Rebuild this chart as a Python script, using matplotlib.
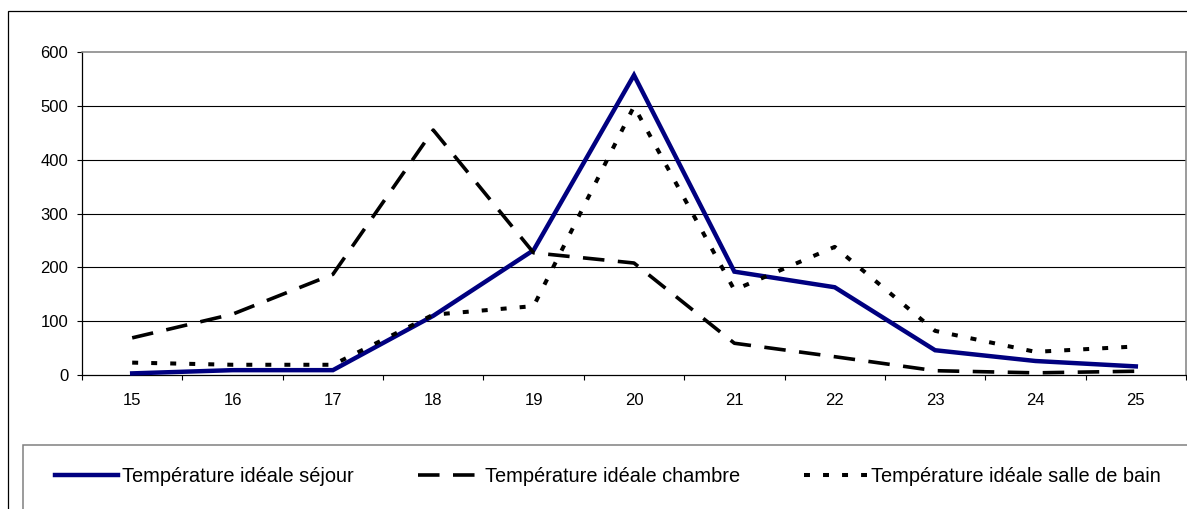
import numpy as np
import matplotlib
matplotlib.use("Agg")
import matplotlib.pyplot as plt
from matplotlib.patches import Rectangle

# valeurs
temperatures = ["15", "16", "17", "18", "19", "20", "21", "22", "23", "24", "25"]
sejour = [3, 9, 9, 110, 232, 557, 192, 163, 46, 26, 16]
chambre = [69, 113, 187, 455, 227, 208, 59, 34, 8, 4, 7]
salle_de_bain = [23, 19, 19, 112, 128, 499, 158, 238, 82, 43, 53]
noms = ["Température idéale séjour",
        "Température idéale chambre",
        "Température idéale salle de bain"]

plt.rcParams["font.family"] = ["Liberation Sans", "DejaVu Sans"]
plt.rcParams["lines.scale_dashes"] = False

W, H = 1187, 509
fig = plt.figure(figsize=(W / 100, H / 100), dpi=100)

# cadre du graphique et cadre de la legende (coupes par le bord de l'image)
fig.add_artist(Rectangle((8 / W, -0.2), 1.5, 1.2 - 10.7 / H, transform=fig.transFigure,
                         fill=False, ec="black", lw=0.9))
fig.add_artist(Rectangle((22.7 / W, -0.2), 1.5, 1.2 - 445 / H, transform=fig.transFigure,
                         fill=False, ec="#808080", lw=1.1))

ax = fig.add_axes([82 / W, 1 - 375 / H, (1186 - 82) / W, (375 - 52) / H])
x = np.arange(len(temperatures))
l1, = ax.plot(x, sejour, color="#000080", lw=3.2, solid_joinstyle="miter",
              clip_on=False, zorder=3)
l2, = ax.plot(x, chambre, color="black", lw=2.6, dashes=(15.5, 9.7),
              clip_on=False, zorder=3)
l3, = ax.plot(x, salle_de_bain, color="black", lw=2.9, dashes=(4.3, 9.4),
              clip_on=False, zorder=3)

ax.set_xlim(-0.5, len(temperatures) - 0.5)
ax.set_ylim(0, 600)
ax.set_yticks(range(0, 601, 100))
ax.set_xticks(x)
ax.set_xticklabels(temperatures)
ax.set_xticks(np.arange(-0.5, len(temperatures), 1), minor=True)
ax.tick_params(axis="x", which="major", length=0, pad=12.7, labelsize=12)
ax.tick_params(axis="x", which="minor", length=3.6, width=0.8, direction="out")
ax.tick_params(axis="y", length=3.6, width=0.8, pad=6.3, labelsize=12)

ax.yaxis.grid(True, color="black", lw=0.8)
grilles = ax.get_ygridlines()
grilles[0].set_visible(False)
grilles[-1].set_visible(False)
ax.set_axisbelow(True)

for cote in ["left", "bottom"]:
    ax.spines[cote].set_color("black")
    ax.spines[cote].set_linewidth(0.9)
for cote in ["top", "right"]:
    ax.spines[cote].set_color("#808080")
    ax.spines[cote].set_linewidth(1.1)

fig.legend([l1, l2, l3], noms, loc="center left",
           bbox_to_anchor=(55 / W, 1 - 476.5 / H), bbox_transform=fig.transFigure,
           ncol=3, frameon=False, borderpad=0, borderaxespad=0, fontsize=14.4,
           handlelength=3.15, handletextpad=0.2, columnspacing=3.2)

fig.savefig("out.png", dpi=100)
